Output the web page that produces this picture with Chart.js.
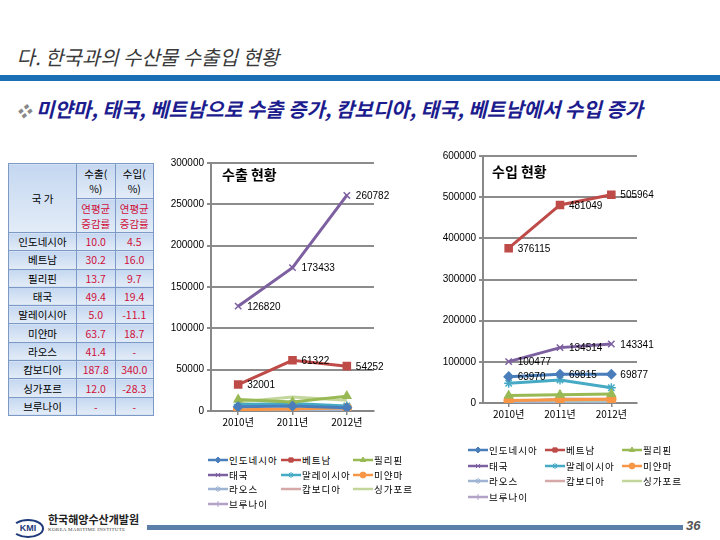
<!DOCTYPE html>
<html>
<head>
<meta charset="utf-8">
<script src="https://cdn.jsdelivr.net/npm/chart.js@4"></script>
<style>
  body { margin: 0; width: 720px; height: 540px; position: relative; background: #fff; overflow: hidden;
         font-family: "Noto Sans CJK KR", sans-serif; }
  .abs { position: absolute; }
  #title { left: 15px; top: 42px; font-size: 20px; color: #3a3a3a; white-space: nowrap;
           transform: skewX(-14deg); transform-origin: left bottom; }
  #bar { left: 0; top: 75px; width: 720px; height: 6px; background: #1a6fb5; }
  #sub { left: 15px; top: 94px; font-size: 20px; font-weight: bold; color: #1c1c8e; white-space: nowrap;
         transform: skewX(-14deg); transform-origin: left bottom; }
  #sub span { color: #888; font-size: 15px; }
  table { position: absolute; left: 8px; top: 163px; width: 146px; height: 253px; border-collapse: collapse;
          font-size: 10.5px; border: 1px solid #7d99c6; }
  td { border: 1px solid #7d99c6; text-align: center; padding: 0; line-height: 15px;
       background: linear-gradient(#c4d7f0, #e3ecf8); color: #000; }
  td.v { color: #d0103a; }
  .ttl { font-size: 14px; font-weight: bold; white-space: nowrap; }
  .leg { position: absolute; font-size: 9.5px; letter-spacing: 1px; white-space: nowrap; display: flex; align-items: center; }
  .leg canvas { margin-right: 1px; }
  canvas.chart { position: absolute; }
</style>
</head>
<body>
<div id="title" class="abs">다. 한국과의 수산물 수출입 현황</div>
<div id="bar" class="abs"></div>
<div id="sub" class="abs"><span>❖</span> 미얀마, 태국, 베트남으로 수출 증가, 캄보디아, 태국, 베트남에서 수입 증가</div>

<table id="tbl"></table>

<canvas id="exportChart" class="chart" width="240" height="290" style="left:160px;top:150px"></canvas>
<canvas id="importChart" class="chart" width="300" height="290" style="left:420px;top:140px"></canvas>
<div class="abs ttl" style="left:222px;top:164px">수출 현황</div>
<div class="abs ttl" style="left:492px;top:161px">수입 현황</div>

<!-- footer -->
<div class="abs" style="left:12px;top:519px;width:28px;height:15px;border:2px solid #1f3a7a;border-radius:50%;border-left-color:transparent;
     font:bold 9px 'Liberation Sans';color:#1f3a7a;text-align:center;line-height:15px">KMI</div>
<div class="abs" style="left:48px;top:511px;font-size:11px;font-weight:bold;color:#222;white-space:nowrap">한국해양수산개발원</div>
<div class="abs" style="left:48px;top:527px;font:5px 'Liberation Serif';color:#444;white-space:nowrap;letter-spacing:0.3px">KOREA MARITIME INSTITUTE</div>
<div class="abs" style="left:147px;top:525px;width:536px;height:5px;background:#5b7fa8"></div>
<div class="abs" style="left:686px;top:518px;font:italic bold 13px 'Liberation Sans';color:#555">36</div>

<script>
const years = ["2010년", "2011년", "2012년"];
const countries = ["인도네시아", "베트남", "필리핀", "태국", "말레이시아", "미얀마", "라오스", "캄보디아", "싱가포르", "브루나이"];

// 수출 (export) values per country, 2010-2012
const exportValues = [
  [5000, 6000, 4000],
  [32001, 61322, 54252],
  [14000, 11000, 18000],
  [126820, 173433, 260782],
  [8000, 9000, 6000],
  [1500, 2500, 4000],
  [100, 200, 300],
  [500, 1000, 1500],
  [11000, 17000, 13000],
  [50, 50, 50]
];

// 수입 (import) values per country, 2010-2012
const importValues = [
  [63970, 69815, 69877],
  [376115, 481049, 505964],
  [18000, 20000, 22000],
  [100477, 134514, 143341],
  [48000, 56000, 37000],
  [6000, 8000, 9000],
  [100, 100, 100],
  [2000, 10000, 9000],
  [4000, 5000, 3000],
  [100, 100, 100]
];

const exportLabelled = [1, 3];
const importLabelled = [0, 1, 3];

// table: 연평균 증감률 (%)
const exportGrowth = ["10.0", "30.2", "13.7", "49.4", "5.0", "63.7", "41.4", "187.8", "12.0", "-"];
const importGrowth = ["4.5", "16.0", "9.7", "19.4", "-11.1", "18.7", "-", "340.0", "-28.3", "-"];

const colors = ["#4a7ebb", "#be4b48", "#98b954", "#7d60a0", "#46aac5", "#f79646", "#9fb4d3", "#d6a9a8", "#c3d69b", "#b3a2c7"];
const markers = ["rectRot", "rect", "triangle", "crossRot", "star", "circle", "star", false, false, "cross"];

// table
const tbl = document.getElementById("tbl");
let html = '<tr style="height:35px"><td rowspan="2" style="width:67px">국 가</td><td>수출(<br>%)</td><td>수입(<br>%)</td></tr>' +
  '<tr style="height:34px"><td class="v">연평균<br>증감률</td><td class="v">연평균<br>증감률</td></tr>';
countries.forEach((c, i) => {
  html += '<tr><td>' + c + '</td><td class="v">' + exportGrowth[i] + '</td><td class="v">' + importGrowth[i] + '</td></tr>';
});
tbl.innerHTML = html;

const valueLabels = {
  id: "valueLabels",
  afterDatasetsDraw(chart, args, opts) {
    const ctx = chart.ctx;
    ctx.save();
    ctx.font = '10px "Liberation Sans"';
    ctx.fillStyle = "#000";
    ctx.textBaseline = "middle";
    opts.series.forEach(i => {
      chart.getDatasetMeta(i).data.forEach((pt, j) => {
        ctx.fillText(chart.data.datasets[i].data[j], pt.x + opts.dx, pt.y + 1);
      });
    });
    ctx.restore();
  }
};

function makeChart(id, values, max, step, labelled, yWidth, xHeight, padding) {
  return new Chart(document.getElementById(id), {
    type: "line",
    data: {
      labels: years,
      datasets: countries.map((c, i) => ({
        label: c,
        data: values[i],
        borderColor: colors[i],
        backgroundColor: colors[i],
        borderWidth: 3,
        pointStyle: markers[i],
        pointRadius: markers[i] ? (markers[i] === "rect" ? 5 : 4.5) : 0,
        pointBorderWidth: 1.5,
        tension: 0
      }))
    },
    options: {
      responsive: false,
      animation: false,
      layout: { padding: padding },
      plugins: {
        legend: { display: false },
        tooltip: { enabled: false },
        valueLabels: { series: labelled, dx: 9 }
      },
      scales: {
        x: {
          offset: true,
          grid: { drawOnChartArea: false, color: "#888", lineWidth: 1.5, tickLength: 4 },
          border: { color: "#888", width: 2 },
          ticks: { color: "#000", font: { family: "Noto Sans CJK KR", size: 10 }, padding: 1 },
          afterFit: s => { s.height = xHeight; }
        },
        y: {
          min: 0,
          max: max,
          ticks: { stepSize: step, color: "#000", font: { family: "Liberation Sans", size: 10 }, callback: v => v, padding: 3 },
          grid: { color: "#8c8c8c", lineWidth: 2, tickLength: 4 },
          border: { color: "#888", width: 2 },
          afterFit: s => { s.width = yWidth; }
        }
      }
    },
    plugins: [valueLabels]
  });
}

makeChart("exportChart", exportValues, 300000, 50000, exportLabelled, 51, 29, { top: 13, right: 26, left: 0, bottom: 0 });
makeChart("importChart", importValues, 600000, 100000, importLabelled, 63, 27, { top: 16, right: 83, left: 0, bottom: 0 });

// legends
function makeLegend(left, top, colX, rowH) {
  countries.forEach((c, i) => {
    const div = document.createElement("div");
    div.className = "leg";
    div.style.left = (left + colX[i % 3]) + "px";
    div.style.top = (top + Math.floor(i / 3) * rowH - 7) + "px";
    const cv = document.createElement("canvas");
    cv.width = 20; cv.height = 14;
    const ctx = cv.getContext("2d");
    ctx.strokeStyle = colors[i];
    ctx.fillStyle = colors[i];
    ctx.lineWidth = 2.5;
    ctx.beginPath(); ctx.moveTo(0, 7); ctx.lineTo(20, 7); ctx.stroke();
    if (markers[i]) {
      ctx.lineWidth = 1;
      Chart.helpers.drawPoint(ctx, { pointStyle: markers[i], radius: 3, borderWidth: 1, rotation: 0 }, 10, 7);
    }
    div.appendChild(cv);
    const sp = document.createElement("span");
    sp.textContent = c;
    div.appendChild(sp);
    document.body.appendChild(div);
  });
}
makeLegend(208, 460, [0, 73, 145], 14.5);
makeLegend(468, 450, [0, 77, 154], 15.7);
</script>
</body>
</html>
